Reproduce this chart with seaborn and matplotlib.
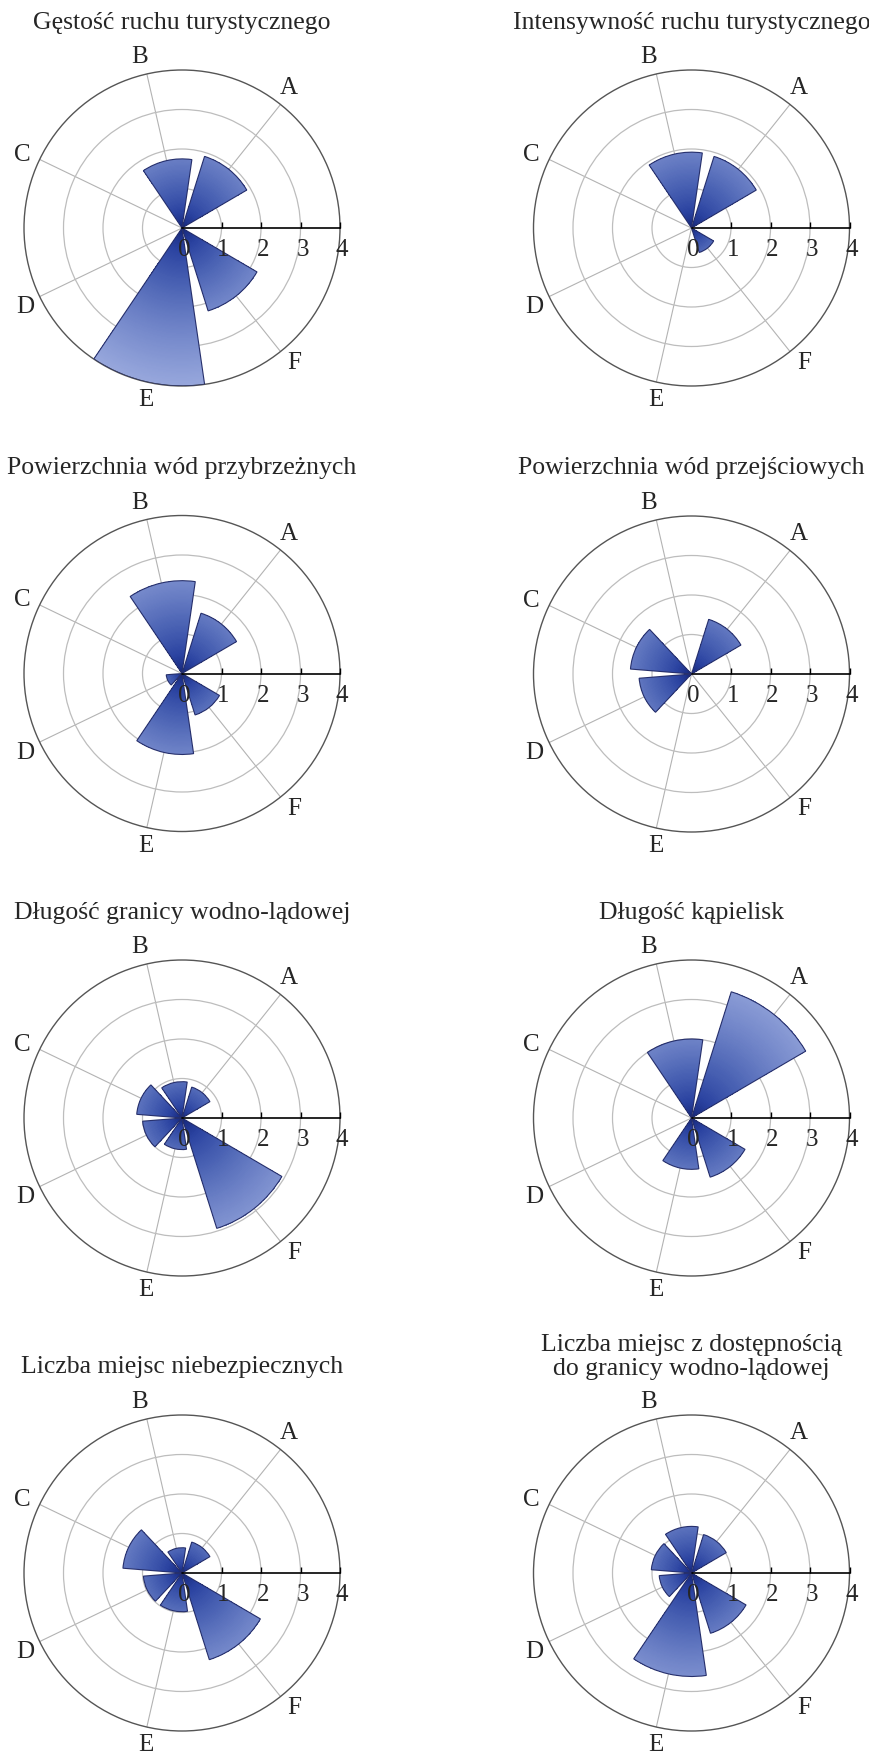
import numpy as np
import matplotlib
matplotlib.use("Agg")
import matplotlib.pyplot as plt
import matplotlib.transforms as mtransforms
import seaborn as sns

sns.set_style("white")
plt.rcParams["font.family"] = ["Liberation Serif", "DejaVu Serif"]

# ---- data -------------------------------------------------------------
categories = ["A", "B", "C", "D", "E", "F"]
radial_ticks = [0, 1, 2, 3, 4]

titles = [
    "Gęstość ruchu turystycznego",
    "Intensywność ruchu turystycznego",
    "Powierzchnia wód przybrzeżnych",
    "Powierzchnia wód przejściowych",
    "Długość granicy wodno-lądowej",
    "Długość kąpielisk",
    "Liczba miejsc niebezpiecznych",
    "Liczba miejsc z dostępnością\ndo granicy wodno-lądowej",
]

gestosc_ruchu = [1.9, 1.75, 0.0, 0.0, 4.0, 2.2]
intensywnosc_ruchu = [1.9, 1.92, 0.0, 0.0, 0.0, 0.65]
wody_przybrzezne = [1.6, 2.35, 0.0, 0.4, 2.05, 1.1]
wody_przejsciowe = [1.45, 0.0, 1.55, 1.33, 0.0, 0.0]
granica_wodno_ladowa = [0.82, 0.92, 1.15, 1.0, 0.8, 2.93]
kapieliska = [3.35, 2.0, 0.0, 0.0, 1.3, 1.57]
miejsca_niebezpieczne = [0.82, 0.64, 1.5, 0.98, 0.98, 2.3]
miejsca_dostepne = [1.02, 1.18, 1.02, 0.82, 2.62, 1.6]

series = [gestosc_ruchu, intensywnosc_ruchu, wody_przybrzezne, wody_przejsciowe,
          granica_wodno_ladowa, kapieliska, miejsca_niebezpieczne, miejsca_dostepne]

# ---- layout (pixels) -------------------------------------------------------
W, H = 870, 1760
R = 158
centers = [(182, 228), (691.5, 228), (182, 673.5), (691.5, 674),
           (182, 1118), (691.5, 1118), (182, 1573), (691.5, 1573)]
title_y = [23, 23, 468, 468, 913, 913, 1367, 1357]

rmax = 4.0
step = 2 * np.pi / 7
theta = np.array([step * (k + 1) for k in range(len(categories))])
width = 0.82 * step

cmap = sns.blend_palette(["#102070", "#2a42a0", "#4b63b4", "#7286c9", "#97a7dc"],
                         as_cmap=True)

fig = plt.figure(figsize=(W / 100, H / 100), dpi=100)


def rose(ax, values):
    ax.set_ylim(0, rmax)
    ax.set_xticks(theta)
    ax.set_xticklabels([])
    ax.set_yticks([1, 2, 3])
    ax.set_yticklabels([])
    ax.tick_params(axis="both", length=0)
    ax.xaxis.grid(True, color="#b3b3b3", lw=0.8)
    ax.yaxis.grid(True, color="#bdbdbd", lw=0.9)
    ax.set_axisbelow(True)
    ax.spines["polar"].set_color("#555555")
    ax.spines["polar"].set_linewidth(1.0)
    ax.set_facecolor("white")

    # shaded wedges: a polar mesh per sector, darker towards the centre
    for th, v in zip(theta, values):
        if v <= 0:
            continue
        n = max(int(v / 0.03), 4)
        t_edges = np.linspace(th - width / 2, th + width / 2, 41)
        r_edges = np.linspace(0, v, n + 1)
        r_mid = (r_edges[:-1] + r_edges[1:]) / 2
        top_level = 0.45 + 0.55 * v / rmax
        level = (r_mid / v) ** 0.7 * top_level
        shade = np.repeat(level[:, None], len(t_edges) - 1, axis=1)
        T, Rg = np.meshgrid(t_edges, r_edges)
        ax.pcolormesh(T, Rg, shade, cmap=cmap, vmin=0, vmax=1,
                      shading="flat", antialiased=False, zorder=2)
        ax.bar(th, v, width=width, bottom=0, fill=False,
               edgecolor="#27306c", linewidth=0.8, zorder=3)

    # radial axis along 0 degrees
    ax.plot([0, 0], [0, rmax], color="black", lw=1.2, zorder=4, clip_on=False)
    ax.plot(np.zeros(4), radial_ticks[1:], linestyle="none", marker=2,
            markersize=4, mew=1.0, color="black", zorder=4, clip_on=False)
    off = mtransforms.offset_copy(ax.transData, fig=fig, x=2, y=-22, units="dots")
    for t in radial_ticks:
        ax.text(0, t, str(t), transform=off, ha="center", va="center",
                fontsize=18, zorder=6, clip_on=False)

    for th, cat in zip(theta, categories):
        ax.text(th + 0.02, 4.45, cat, ha="center", va="center",
                fontsize=18, clip_on=False)


for i, (vals, (cx, cy)) in enumerate(zip(series, centers)):
    ax = fig.add_axes([(cx - R) / W, 1 - (cy + R) / H, 2 * R / W, 2 * R / H],
                      projection="polar")
    rose(ax, vals)
    fig.text(cx / W, 1 - title_y[i] / H, titles[i], ha="center", va="center",
             fontsize=18.5, linespacing=1.15)

fig.savefig("out.png", dpi=100, facecolor="white")
